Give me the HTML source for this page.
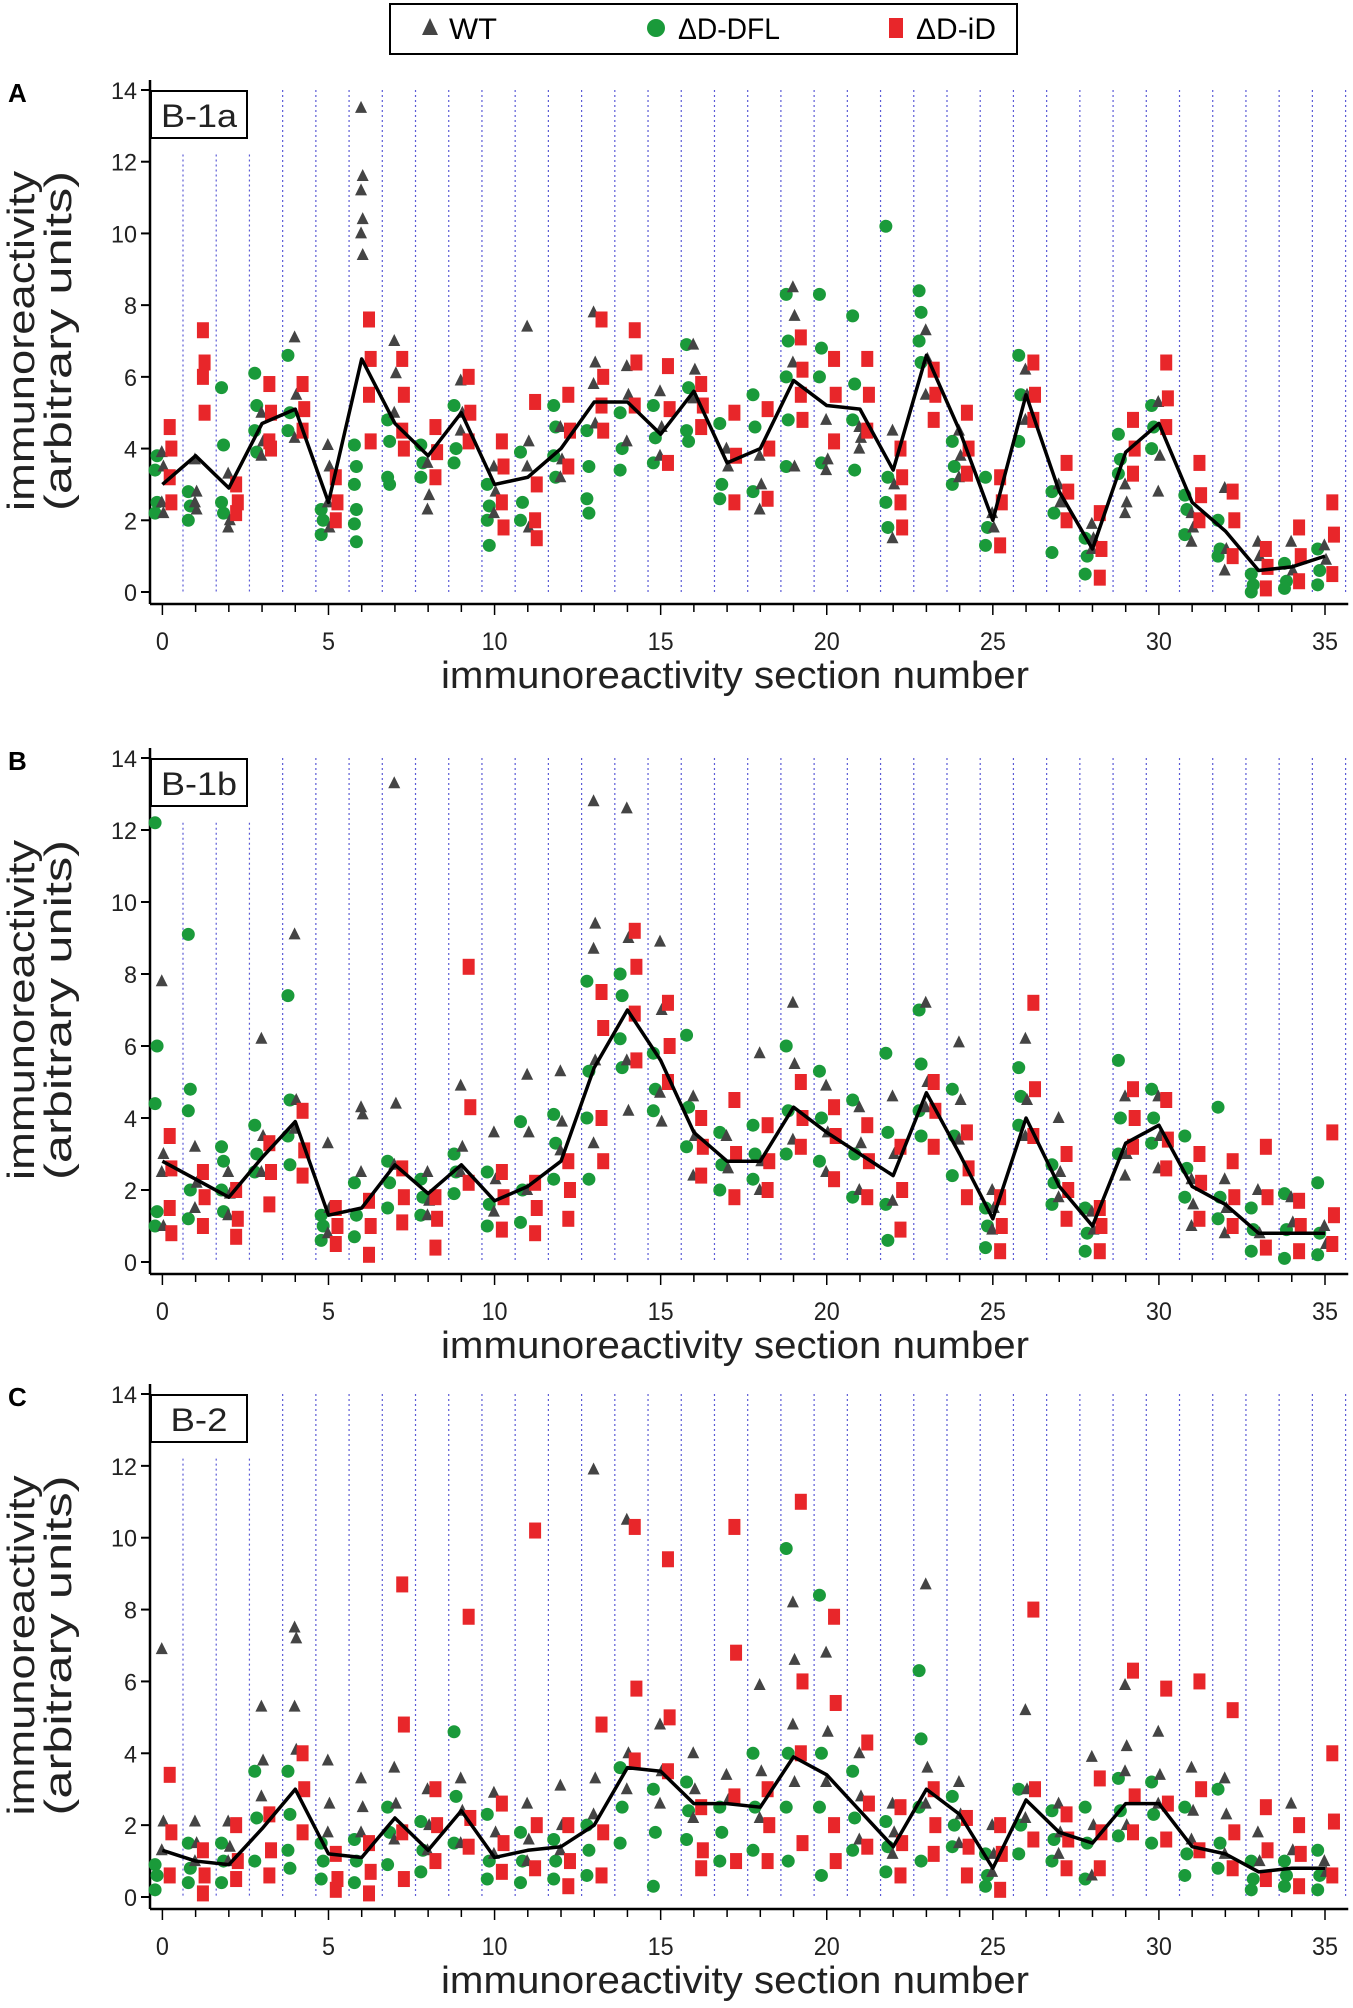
<!DOCTYPE html>
<html><head><meta charset="utf-8"><style>
body{margin:0;background:#fff;}
svg{display:block;font-family:"Liberation Sans",sans-serif;}
</style></head><body>
<svg id="chart" width="1353" height="2008" viewBox="0 0 1353 2008" xmlns="http://www.w3.org/2000/svg">
<g>
<rect x="390" y="4" width="627" height="50" fill="#fff" stroke="#000" stroke-width="2"/>
<polygon points="430,18 422,35 438,35" fill="#444"/>
<text x="449" y="39" font-size="30" textLength="48" lengthAdjust="spacingAndGlyphs">WT</text>
<circle cx="656" cy="28" r="9" fill="#1a9a3a"/>
<text x="678" y="39" font-size="30" textLength="102" lengthAdjust="spacingAndGlyphs">ΔD-DFL</text>
<rect x="889" y="18" width="14" height="20" fill="#e8262a"/>
<text x="916" y="39" font-size="30" textLength="80" lengthAdjust="spacingAndGlyphs">ΔD-iD</text>
</g>
</svg>
<script>
const sections=[...Array(36).keys()];
const xTicks=[0,5,10,15,20,25,30,35];
const yTicks=[0,2,4,6,8,10,12,14];
const meanA=[3.0,3.8,2.9,4.7,5.1,2.5,6.5,4.7,3.8,5.0,3.0,3.2,4.0,5.3,5.3,4.4,5.6,3.6,4.0,5.9,5.2,5.1,3.4,6.6,4.5,2.0,5.5,2.8,1.2,3.9,4.7,2.5,1.7,0.6,0.7,1.0];
const wtA=[[3.9,3.5,2.5,2.2],[3.7,2.8,2.5,2.3],[3.3,2.0,1.8],[5.0,4.2,3.8],[7.1,5.5,4.3],[4.1,3.5,2.5,1.8],[13.5,11.6,11.2,10.4,10.0,9.4],[7.0,6.1,5.0],[3.6,2.7,2.3],[5.9,5.0,4.5],[3.5,2.8,2.2],[7.4,4.2,3.5,1.8],[4.6,3.7,3.2],[7.8,6.4,5.8,4.7],[6.3,5.5,4.2],[5.6,4.6,3.8],[6.9,6.2,5.4],[4.0,3.5],[3.8,3.0,2.3],[8.5,7.7,6.4,3.5],[4.8,3.7,3.4],[4.6,4.3,4.0],[4.5,3.0,1.5],[7.3,6.5,5.5],[4.5,3.8,3.2],[2.2,1.8],[6.2,5.5,4.8],[3.0,2.5],[1.9,1.5,1.2],[3.0,2.5,2.2],[5.3,3.8,2.8],[2.2,1.8,1.4],[2.9,1.2,0.6],[1.4,1.0],[1.4,0.6],[1.3,0.9]];
const dflA=[[2.2,2.5,3.4,3.8],[2.0,2.4,2.8],[5.7,4.1,2.5,2.2],[6.1,5.2,4.5,3.9],[6.6,5.0,4.5],[2.3,2.0,1.6],[4.1,3.5,3.0,2.3,1.9,1.4],[4.8,4.2,3.2,3.0],[4.1,3.6,3.2],[5.2,4.0,3.6],[2.0,2.4,3.0,1.3],[3.9,2.5,2.0],[5.2,4.6,3.8,3.2],[4.5,3.5,2.6,2.2],[5.0,4.0,3.4],[5.2,4.3,3.6],[6.9,5.7,4.5,4.2],[4.7,3.0,2.6],[5.5,4.6,2.8],[8.3,7.0,6.0,4.8,3.5],[8.3,6.8,6.0,3.6],[7.7,5.8,4.8,3.4],[10.2,3.2,2.5,1.8],[8.4,7.8,7.0,6.4],[4.2,3.5,3.0],[3.2,1.8,1.3],[6.6,5.5,4.2],[2.8,2.2,1.1],[1.5,1.0,0.5],[4.4,3.7,3.3],[5.2,4.6,4.0],[2.7,2.3,1.6],[2.0,1.2,1.0],[0.5,0.2,0],[0.8,0.3,0.1],[1.2,0.6,0.2]];
const idA=[[4.6,4.0,3.2,2.5],[7.3,6.4,6.0,5.0],[3.0,2.5,2.2],[5.8,5.0,4.2,4.0],[5.8,5.1,4.5],[3.2,2.5,2.0],[7.6,6.5,5.5,4.2],[6.5,5.5,4.5,4.0],[4.6,3.9,3.2],[6.0,5.0,4.2],[4.2,3.5,2.5,1.8],[5.3,3.0,2.0,1.5],[5.5,4.5,3.5],[7.6,6.0,5.2,4.5],[7.3,6.4,5.2],[6.3,5.1,3.6],[5.8,5.2,4.6],[5.0,3.8,2.5],[5.1,4.0,2.6],[7.1,6.2,5.5,4.8],[6.5,5.5,4.2],[6.5,5.5,4.5],[4.0,3.2,2.5,1.8],[6.2,5.5,4.8],[5.0,4.0,3.3],[3.2,2.5,1.3],[6.4,5.5,4.8],[3.6,2.8,2.0],[2.2,1.2,0.4],[4.8,4.0,3.3],[6.4,5.4,4.6],[3.6,2.7,2.0],[2.8,2.0,1.0],[1.2,0.7,0.1],[1.8,1.0,0.3],[2.5,1.6,0.5]];
const meanB=[2.8,2.3,1.8,2.9,3.9,1.3,1.5,2.7,1.9,2.7,1.7,2.1,2.8,5.4,7.0,5.6,3.6,2.8,2.8,4.3,3.6,3.0,2.4,4.7,3.0,1.2,4.0,2.1,1.0,3.3,3.8,2.1,1.6,0.8,0.8,0.8];
const wtB=[[7.8,3.0,2.5,1.0],[3.2,2.2,1.5],[2.5,1.9,1.3],[6.2,3.5,2.5],[9.1,4.5,3.7],[3.3,1.5,0.8],[4.3,4.1,2.5],[13.3,4.4,2.7],[2.5,1.7,1.3],[4.9,3.2,2.5],[3.6,2.3,1.4],[5.2,3.6,2.0],[5.3,3.9,3.1],[12.8,9.4,8.7,5.6,3.3],[12.6,9.0,5.6,4.2],[8.9,7.0,4.7,3.9],[4.6,3.5,2.4],[3.5,2.6],[5.8,2.8,2.0],[7.2,5.5,3.4],[4.9,3.6,2.5],[4.3,3.3,2.0],[4.6,3.0,1.7],[7.2,5.0,4.3],[6.1,4.5,3.4],[2.0,1.5,0.9],[6.2,4.5,3.5],[4.0,2.5,1.8],[1.4,0.9],[4.6,3.0,2.4],[4.6,3.5,2.6],[2.3,1.6,1.0],[2.3,1.5,0.8],[2.0,0.8],[1.8,1.1],[1.0,0.5]];
const dflB=[[12.2,6.0,4.4,1.4,1.0],[9.1,4.8,4.2,2.0,1.2],[3.2,2.8,2.0,1.4],[3.8,3.0,2.5],[7.4,4.5,3.5,2.7],[1.3,1.0,0.6],[2.2,1.3,0.7],[2.8,2.2,1.5],[2.3,1.8,1.3],[3.0,2.5,1.9],[2.5,1.6,1.0],[3.9,2.0,1.1],[4.1,3.3,2.3],[7.8,5.3,4.0,2.3],[8.0,7.4,6.2,5.4],[5.8,4.8,4.2],[6.3,4.3,3.2],[3.6,2.7,2.0],[3.8,3.0,2.3],[6.0,4.2,3.0],[5.3,4.0,2.8],[4.5,3.0,1.8],[5.8,3.6,1.6,0.6],[7.0,5.5,4.2,3.5],[4.8,3.5,2.4],[1.5,1.0,0.4],[5.4,4.6,3.8],[2.7,2.2,1.6],[1.5,0.8,0.3],[5.6,4.0,3.0],[4.8,4.0,3.3],[3.5,2.6,1.8],[4.3,1.8,1.2],[1.5,0.9,0.3],[1.9,0.9,0.1],[2.2,0.8,0.2]];
const idB=[[3.5,2.6,1.5,0.8],[2.5,1.8,1.0],[2.0,1.2,0.7],[3.3,2.5,1.6],[4.2,3.1,2.4],[1.5,1.0,0.5],[1.7,1.0,0.2],[2.6,1.8,1.1],[1.8,1.2,0.4],[8.2,4.3,2.2],[2.5,1.8,0.9],[2.2,1.5,0.8],[2.8,2.0,1.2],[7.5,6.5,4.0,2.8],[9.2,8.2,6.9,5.6],[7.2,6.0,5.0],[4.0,3.2,2.4],[4.5,3.0,1.8],[3.8,2.8,2.0],[5.0,4.0,3.2],[4.3,3.5,2.3],[3.8,2.8,1.8],[3.2,2.0,0.9],[5.0,4.2,3.2],[3.6,2.6,1.8],[1.8,1.0,0.3],[7.2,4.8,3.5],[3.0,2.0,1.2],[1.5,1.0,0.3],[4.8,4.0,3.2],[4.5,3.4,2.6],[3.0,2.2,1.2],[2.8,1.8,1.0],[3.2,1.8,0.4],[1.7,1.0,0.3],[3.6,1.3,0.5]];
const meanC=[1.3,1.0,0.9,1.9,3.0,1.2,1.1,2.2,1.3,2.4,1.1,1.3,1.4,2.0,3.6,3.5,2.6,2.6,2.5,3.9,3.4,2.4,1.4,3.0,2.3,0.8,2.7,1.8,1.5,2.6,2.6,1.4,1.2,0.7,0.8,0.8];
const wtC=[[6.9,2.1,1.3],[2.1,1.5,1.0],[2.1,1.4,1.0],[5.3,3.8,2.8],[7.5,7.2,5.3,4.1],[3.8,2.6,1.8],[3.3,2.5,1.8],[3.6,2.6,1.6],[3.0,2.0,1.3],[3.3,2.4,1.5],[2.9,1.8,1.2],[2.6,1.6,1.0],[3.1,2.0,1.3],[11.9,3.3,2.3],[10.5,4.0,3.0],[4.8,3.5,2.6],[4.0,3.0,2.2],[3.4,2.7],[5.9,3.5,2.2],[8.2,6.6,4.8,3.2],[6.8,4.6,3.2],[4.0,2.8,1.6],[2.6,1.8,1.2],[8.7,3.6,2.6],[3.2,2.3,1.5],[2.0,1.2,0.7],[5.2,3.0,2.2],[2.6,1.8,1.2],[3.9,2.0,0.6],[5.9,4.2,3.5,2.0],[4.6,3.4,2.6],[3.6,2.4,1.6],[3.3,2.3,1.2],[1.8,1.0],[2.6,1.3],[1.0,0.7]];
const dflC=[[0.9,0.6,0.2],[1.5,0.8,0.4],[1.5,1.0,0.4],[3.5,2.2,1.0],[3.5,2.3,1.3,0.8],[1.5,1.0,0.5],[1.6,1.0,0.4],[2.5,1.8,0.9],[2.1,1.3,0.7],[4.6,2.8,1.5],[2.3,1.0,0.5],[1.8,1.0,0.4],[1.6,1.0,0.5],[2.0,1.3,0.6],[3.6,2.5,1.5],[3.0,1.8,0.3],[3.2,2.4,1.6],[2.5,1.8,1.0],[4.0,2.5,1.3],[9.7,4.0,2.5,1.0],[8.4,4.0,2.5,0.6],[3.5,2.2,1.3],[2.1,1.4,0.7],[6.3,4.4,2.5,1.0],[2.8,2.0,1.4],[1.2,0.6,0.3],[3.0,2.0,1.2],[2.4,1.6,1.0],[2.5,1.5,0.5],[3.3,2.4,1.7],[3.2,2.3,1.5],[2.5,1.2,0.6],[3.0,1.5,0.8],[1.0,0.5,0.2],[1.0,0.6,0.3],[1.3,0.6,0.2]];
const idC=[[3.4,1.8,0.6],[1.3,0.6,0.1],[2.0,1.0,0.5],[2.3,1.3,0.6],[4.0,3.0,1.8],[1.2,0.5,0.2],[1.5,0.7,0.1],[8.7,4.8,1.8,0.5],[3.0,2.0,1.0],[7.8,2.2,1.4],[2.6,1.5,0.7],[10.2,2.0,0.8],[2.0,1.0,0.3],[4.8,1.8,0.6],[10.3,5.8,3.8],[9.4,5.0,3.5],[2.5,1.3,0.8],[10.3,6.8,2.8,1.0],[3.0,2.0,1.0],[11.0,6.0,4.0,1.5],[7.8,5.4,2.0,1.0],[4.3,2.6,1.4],[2.5,1.5,0.6],[3.0,2.0,1.2],[2.2,1.4,0.6],[2.0,1.2,0.2],[8.0,3.0,1.6],[2.3,1.6,0.8],[3.3,1.8,0.8],[6.3,2.8,1.8],[5.8,2.6,1.6],[6.0,3.0,1.3],[5.2,1.8,0.8],[2.5,1.3,0.5],[2.0,1.2,0.3],[4.0,2.1,0.6]];

const NS='http://www.w3.org/2000/svg';
const svg=document.getElementById('chart');
function mk(tag,attrs,parent){const e=document.createElementNS(NS,tag);for(const k in attrs)e.setAttribute(k,attrs[k]);parent.appendChild(e);return e;}
const X0=162.4,XU=(1325-162.4)/35,AXX=150;
const xs=v=>X0+v*XU;
const panels=[
 {letter:'A',label:'B-1a',y0:592,y14:90,mean:meanA,wt:wtA,dfl:dflA,id:idA},
 {letter:'B',label:'B-1b',y0:1262,y14:758,mean:meanB,wt:wtB,dfl:dflB,id:idB},
 {letter:'C',label:'B-2',y0:1897,y14:1394,mean:meanC,wt:wtC,dfl:dflC,id:idC}];
panels.forEach((p,pi)=>{
 const ys=v=>p.y0-(p.y0-p.y14)*v/14;
 const g=mk('g',{},svg);
 
 
 for(let s=0;s<36;s++){
  const gx=xs(s+0.62);
  const top=(gx<250)?ys(12.2):ys(14);
  const l=mk('line',{x1:gx,x2:gx,y1:top,y2:p.y0,stroke:'#5b5bd6','stroke-width':1.2,'stroke-dasharray':'2,3'},g);
  
  
 }
 const axB=p.y0+12;
 const ya=mk('line',{x1:AXX,x2:AXX,y1:ys(14)-10,y2:axB,stroke:'#000','stroke-width':2.5},g);
 
 
 const xa=mk('line',{x1:AXX,x2:xs(35.7),y1:axB,y2:axB,stroke:'#000','stroke-width':2.5},g);
 
 
 yTicks.forEach(t=>{
  mk('line',{x1:AXX-9,x2:AXX,y1:ys(t),y2:ys(t),stroke:'#000','stroke-width':2},g);
  const tx=mk('text',{x:AXX-13,y:ys(t)+9,'font-size':24,'text-anchor':'end',textLength:(t>=10?26:13),lengthAdjust:'spacingAndGlyphs',fill:'#222'},g);
  tx.textContent=t;
  
  
 });
 sections.forEach(s=>{mk('line',{x1:xs(s),x2:xs(s),y1:axB,y2:axB+(s%5==0?11:8),stroke:'#000','stroke-width':1.5},g);});
 xTicks.forEach(t=>{
  const tx=mk('text',{x:xs(t),y:axB+46,'font-size':25,'text-anchor':'middle',textLength:(t>=10?26:13),lengthAdjust:'spacingAndGlyphs',fill:'#222'},g);
  tx.textContent=t;
  
  
 });
 const xt=mk('text',{x:735,y:axB+84,'font-size':38,'text-anchor':'middle',textLength:588,lengthAdjust:'spacingAndGlyphs',fill:'#222'},g);
 xt.textContent='immunoreactivity section number';
 
 
 const cy=(p.y0+p.y14)/2;
 const yt1=mk('text',{x:0,y:0,'font-size':38,'text-anchor':'middle',textLength:340,lengthAdjust:'spacingAndGlyphs',fill:'#222',transform:`translate(34,${cy}) rotate(-90)`},g);
 yt1.textContent='immunoreactivity';
 
 
 const yt2=mk('text',{x:0,y:0,'font-size':38,'text-anchor':'middle',textLength:340,lengthAdjust:'spacingAndGlyphs',fill:'#222',transform:`translate(71,${cy}) rotate(-90)`},g);
 yt2.textContent='(arbitrary units)';
 
 
 const pl=mk('text',{x:8,y:ys(14)+12,'font-size':26,'font-weight':'bold'},g);
 pl.textContent=p.letter;
 
 
 const lb=mk('g',{},g);
 
 
 mk('rect',{x:AXX+1,y:ys(14)+1,width:96,height:47,fill:'#fff',stroke:'#000','stroke-width':2},lb);
 const lt=mk('text',{x:AXX+49,y:ys(14)+37,'font-size':32,'text-anchor':'middle',textLength:(p.label.length*19),lengthAdjust:'spacingAndGlyphs',fill:'#222'},lb);
 lt.textContent=p.label;
 sections.forEach(s=>{
  p.dfl[s].forEach((v,i)=>{
   const c=mk('circle',{cx:xs(s-0.22+(i%2)*0.06),cy:ys(v),r:6.5,fill:'#1a9a3a'},g);
   
   
  });
  p.wt[s].forEach((v,i)=>{
   const cx=xs(s-0.02+(i%2)*0.05),cy=ys(v);
   const t=mk('polygon',{points:`${cx},${cy-7} ${cx-6},${cy+5} ${cx+6},${cy+5}`,fill:'#444'},g);
   
   
  });
  p.id[s].forEach((v,i)=>{
   const cx=xs(s+0.22+(i%2)*0.05),cy=ys(v);
   const r=mk('rect',{x:cx-6,y:cy-8,width:12,height:16,fill:'#e8262a'},g);
   
   
  });
 });
 const pts=p.mean.map((v,i)=>xs(sections[i])+','+ys(v)).join(' ');
 const ml=mk('polyline',{points:pts,fill:'none',stroke:'#000','stroke-width':3.5,'stroke-linejoin':'round'},g);
 
 
});
</script>
</body></html>
